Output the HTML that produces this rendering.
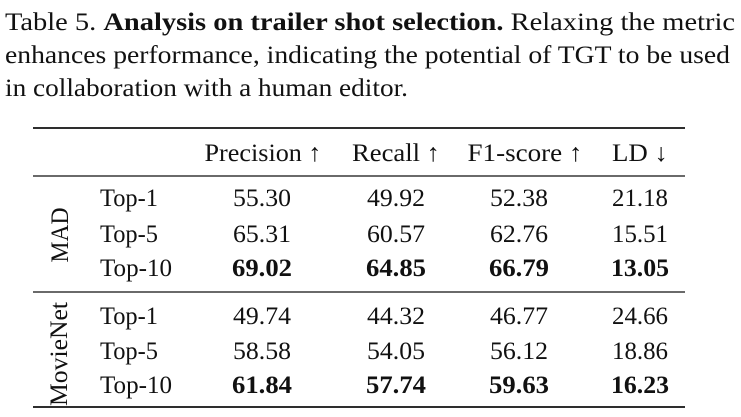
<!DOCTYPE html>
<html><head><meta charset="utf-8"><style>
html,body{margin:0;padding:0;background:#fff;}
svg{display:block;}
</style></head><body>
<svg width="741" height="417" viewBox="0 0 741 417" font-family="'Liberation Serif','Times New Roman',Times,'Nimbus Roman',serif" fill="#111">
<g font-size="25">
<text x="5" y="30" textLength="730" lengthAdjust="spacingAndGlyphs">Table 5. <tspan font-weight="bold">Analysis on trailer shot selection.</tspan> Relaxing the metric</text>
<text x="5" y="63" textLength="725" lengthAdjust="spacingAndGlyphs">enhances performance, indicating the potential of TGT to be used</text>
<text x="5" y="96" textLength="403" lengthAdjust="spacingAndGlyphs">in collaboration with a human editor.</text>
</g>
<g stroke="#111">
<line x1="33" y1="128" x2="685" y2="128" stroke-width="1.8"/>
<line x1="33" y1="176" x2="685" y2="176" stroke-width="1.2"/>
<line x1="33" y1="292" x2="685" y2="292" stroke-width="1.2"/>
<line x1="33" y1="407" x2="685" y2="407" stroke-width="1.8"/>
</g>
<g font-size="25" text-anchor="middle">
<text x="263" y="161" textLength="117" lengthAdjust="spacingAndGlyphs">Precision ↑</text>
<text x="396" y="161" textLength="88" lengthAdjust="spacingAndGlyphs">Recall ↑</text>
<text x="525" y="161" textLength="115" lengthAdjust="spacingAndGlyphs">F1-score ↑</text>
<text x="640" y="161" textLength="56" lengthAdjust="spacingAndGlyphs">LD ↓</text>
</g>
<g font-size="25">
<text transform="translate(68,235) rotate(-90)" text-anchor="middle" textLength="55" lengthAdjust="spacingAndGlyphs">MAD</text>
<text transform="translate(67,354) rotate(-90)" text-anchor="middle" textLength="104" lengthAdjust="spacingAndGlyphs">MovieNet</text>
<text x="100" y="206" textLength="58" lengthAdjust="spacingAndGlyphs">Top-1</text>
<text x="100" y="242" textLength="58" lengthAdjust="spacingAndGlyphs">Top-5</text>
<text x="100" y="276" textLength="72" lengthAdjust="spacingAndGlyphs">Top-10</text>
<text x="100" y="324" textLength="58" lengthAdjust="spacingAndGlyphs">Top-1</text>
<text x="100" y="359" textLength="58" lengthAdjust="spacingAndGlyphs">Top-5</text>
<text x="100" y="393" textLength="72" lengthAdjust="spacingAndGlyphs">Top-10</text>
</g>
<g font-size="25" text-anchor="middle" lengthAdjust="spacingAndGlyphs">
<text x="262" y="206" textLength="58" lengthAdjust="spacingAndGlyphs">55.30</text><text x="396" y="206" textLength="58" lengthAdjust="spacingAndGlyphs">49.92</text><text x="519" y="206" textLength="58" lengthAdjust="spacingAndGlyphs">52.38</text><text x="640" y="206" textLength="56" lengthAdjust="spacingAndGlyphs">21.18</text>
<text x="262" y="242" textLength="58" lengthAdjust="spacingAndGlyphs">65.31</text><text x="396" y="242" textLength="58" lengthAdjust="spacingAndGlyphs">60.57</text><text x="519" y="242" textLength="58" lengthAdjust="spacingAndGlyphs">62.76</text><text x="640" y="242" textLength="56" lengthAdjust="spacingAndGlyphs">15.51</text>
<g font-weight="bold"><text x="262" y="276" textLength="60" lengthAdjust="spacingAndGlyphs">69.02</text><text x="396" y="276" textLength="60" lengthAdjust="spacingAndGlyphs">64.85</text><text x="519" y="276" textLength="60" lengthAdjust="spacingAndGlyphs">66.79</text><text x="640" y="276" textLength="58" lengthAdjust="spacingAndGlyphs">13.05</text></g>
<text x="262" y="324" textLength="58" lengthAdjust="spacingAndGlyphs">49.74</text><text x="396" y="324" textLength="58" lengthAdjust="spacingAndGlyphs">44.32</text><text x="519" y="324" textLength="58" lengthAdjust="spacingAndGlyphs">46.77</text><text x="640" y="324" textLength="56" lengthAdjust="spacingAndGlyphs">24.66</text>
<text x="262" y="359" textLength="58" lengthAdjust="spacingAndGlyphs">58.58</text><text x="396" y="359" textLength="58" lengthAdjust="spacingAndGlyphs">54.05</text><text x="519" y="359" textLength="58" lengthAdjust="spacingAndGlyphs">56.12</text><text x="640" y="359" textLength="56" lengthAdjust="spacingAndGlyphs">18.86</text>
<g font-weight="bold"><text x="262" y="393" textLength="60" lengthAdjust="spacingAndGlyphs">61.84</text><text x="396" y="393" textLength="60" lengthAdjust="spacingAndGlyphs">57.74</text><text x="519" y="393" textLength="60" lengthAdjust="spacingAndGlyphs">59.63</text><text x="640" y="393" textLength="58" lengthAdjust="spacingAndGlyphs">16.23</text></g>
</g>
</svg>
</body></html>
